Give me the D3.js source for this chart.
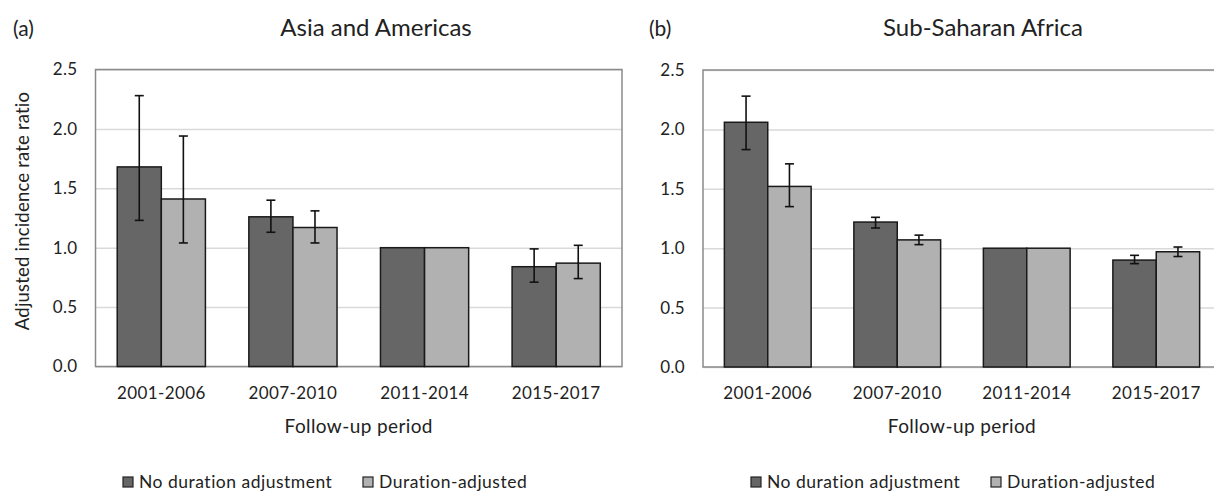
<!DOCTYPE html>
<html>
<head>
<meta charset="utf-8">
<script src="https://cdn.jsdelivr.net/npm/d3@7"></script>
<style>
  body { margin: 0; background: white; }
  text { font-family: Lato, "Open Sans", sans-serif; fill: #222; }
</style>
</head>
<body>
<svg width="1214" height="492"></svg>
<script>
// data
const periods = ['2001-2006', '2007-2010', '2011-2014', '2015-2017'];
const seriesNames = ['No duration adjustment', 'Duration-adjusted'];
const yTicks = [0, 0.5, 1.0, 1.5, 2.0, 2.5];

// (a) Asia and Americas
const asiaNoAdj = [1.68, 1.26, 1.00, 0.84];
const asiaNoAdjLow = [1.23, 1.13, null, 0.71];
const asiaNoAdjHigh = [2.28, 1.40, null, 0.99];
const asiaAdj = [1.41, 1.17, 1.00, 0.87];
const asiaAdjLow = [1.04, 1.04, null, 0.74];
const asiaAdjHigh = [1.94, 1.31, null, 1.02];

// (b) Sub-Saharan Africa
const ssaNoAdj = [2.06, 1.22, 1.00, 0.90];
const ssaNoAdjLow = [1.83, 1.17, null, 0.87];
const ssaNoAdjHigh = [2.28, 1.26, null, 0.94];
const ssaAdj = [1.52, 1.07, 1.00, 0.97];
const ssaAdjLow = [1.35, 1.03, null, 0.93];
const ssaAdjHigh = [1.71, 1.11, null, 1.01];

const svg = d3.select('svg');
const colors = ['#666666', '#b1b1b1'];

const drawPanel = (opts) => {
    const { left, right, top, bottom, tag, tagX, title, titleX, series, showYLabel, legendX } = opts;

    const xScale = d3.scaleBand()
          .domain(periods)
          .range([left, right])
          .paddingInner(0.33)
          .paddingOuter(0.165);
    const xInner = d3.scaleBand()
          .domain([0, 1])
          .range([0, xScale.bandwidth()]);
    const yScale = d3.scaleLinear()
          .domain([0, 2.5])
          .range([bottom, top]);

    const g = svg.append('g');

    // gridlines
    const yAxis = d3.axisLeft(yScale)
          .tickValues(yTicks)
          .tickFormat(d3.format('.1f'))
          .tickSize(-(right - left))
          .tickPadding(18);
    const yAxisGroup = g.append('g')
          .attr('transform', `translate(${left},0)`)
          .call(yAxis);
    yAxisGroup.select('.domain').remove();
    yAxisGroup.selectAll('line').attr('stroke', '#d9d9d9').attr('stroke-width', 1.5);
    yAxisGroup.selectAll('text')
        .style('font-size', '17px')
        .style('font-family', 'Lato, sans-serif')
        .style('letter-spacing', '0.3px')
        .attr('fill', '#333');

    // plot frame
    g.append('rect')
        .attr('x', left).attr('y', top)
        .attr('width', right - left).attr('height', bottom - top)
        .attr('fill', 'none')
        .attr('stroke', '#8a8a8a')
        .attr('stroke-width', 1.5);

    // bars
    series.forEach((s, si) => {
        g.append('g').selectAll('rect').data(periods)
            .enter()
            .append('rect')
            .attr('x', (p) => xScale(p) + xInner(si))
            .attr('y', (p, i) => yScale(s.values[i]))
            .attr('width', xInner.bandwidth())
            .attr('height', (p, i) => bottom - yScale(s.values[i]))
            .attr('fill', colors[si])
            .attr('stroke', '#1a1a1a')
            .attr('stroke-width', 1.5);

        // error bars
        const eb = g.append('g').selectAll('g')
              .data(periods.map((p, i) => ({ p, lo: s.low[i], hi: s.high[i] })).filter(d => d.lo !== null))
              .enter()
              .append('g')
              .attr('stroke', '#111')
              .attr('stroke-width', 1.6);
        const cx = d => xScale(d.p) + xInner(si) + xInner.bandwidth() / 2;
        eb.append('line')
            .attr('x1', cx).attr('x2', cx)
            .attr('y1', d => yScale(d.lo)).attr('y2', d => yScale(d.hi));
        eb.append('line')
            .attr('x1', d => cx(d) - 4.5).attr('x2', d => cx(d) + 4.5)
            .attr('y1', d => yScale(d.hi)).attr('y2', d => yScale(d.hi));
        eb.append('line')
            .attr('x1', d => cx(d) - 4.5).attr('x2', d => cx(d) + 4.5)
            .attr('y1', d => yScale(d.lo)).attr('y2', d => yScale(d.lo));
    });

    // x axis labels
    const xAxis = d3.axisBottom(xScale).tickSize(0).tickPadding(20);
    const xAxisGroup = g.append('g')
          .attr('transform', `translate(0,${bottom})`)
          .call(xAxis);
    xAxisGroup.select('.domain').remove();
    xAxisGroup.selectAll('text')
        .style('font-size', '17px')
        .style('font-family', 'Lato, sans-serif')
        .style('letter-spacing', '0.4px')
        .attr('fill', '#333');

    g.append('text')
        .attr('x', (left + right) / 2)
        .attr('y', 433)
        .attr('text-anchor', 'middle')
        .style('font-size', '19px')
        .style('letter-spacing', '0.4px')
        .text('Follow-up period');

    // titles
    g.append('text')
        .attr('x', tagX).attr('y', 36)
        .style('font-size', '21px')
        .text(tag);
    g.append('text')
        .attr('x', titleX).attr('y', 36)
        .attr('text-anchor', 'middle')
        .style('font-size', '24px')
        .text(title);

    if (showYLabel) {
        g.append('text')
            .attr('transform', `translate(29,211) rotate(-90)`)
            .attr('text-anchor', 'middle')
            .style('font-size', '18.5px')
            .style('letter-spacing', '0.2px')
            .text('Adjusted incidence rate ratio');
    }

    // legend
    const legend = g.append('g').attr('transform', `translate(${legendX},482)`);
    const legendOffsets = [0, 240];
    seriesNames.forEach((name, i) => {
        legend.append('rect')
            .attr('x', legendOffsets[i]).attr('y', -5)
            .attr('width', 10).attr('height', 10)
            .attr('fill', colors[i])
            .attr('stroke', '#222')
            .attr('stroke-width', 1.2);
        legend.append('text')
            .attr('x', legendOffsets[i] + 16).attr('y', 0)
            .attr('dy', '0.35em')
            .style('font-size', '17.5px')
            .style('letter-spacing', '0.5px')
            .text(name);
    });
};

drawPanel({
    left: 95.5, right: 622, top: 69.5, bottom: 366.5,
    tag: '(a)', tagX: 13, title: 'Asia and Americas', titleX: 376,
    showYLabel: true, legendX: 123,
    series: [
        { values: asiaNoAdj, low: asiaNoAdjLow, high: asiaNoAdjHigh },
        { values: asiaAdj, low: asiaAdjLow, high: asiaAdjHigh },
    ],
});

drawPanel({
    left: 703, right: 1221, top: 70, bottom: 367,
    tag: '(b)', tagX: 649, title: 'Sub-Saharan Africa', titleX: 983,
    showYLabel: false, legendX: 751,
    series: [
        { values: ssaNoAdj, low: ssaNoAdjLow, high: ssaNoAdjHigh },
        { values: ssaAdj, low: ssaAdjLow, high: ssaAdjHigh },
    ],
});
</script>
</body>
</html>
